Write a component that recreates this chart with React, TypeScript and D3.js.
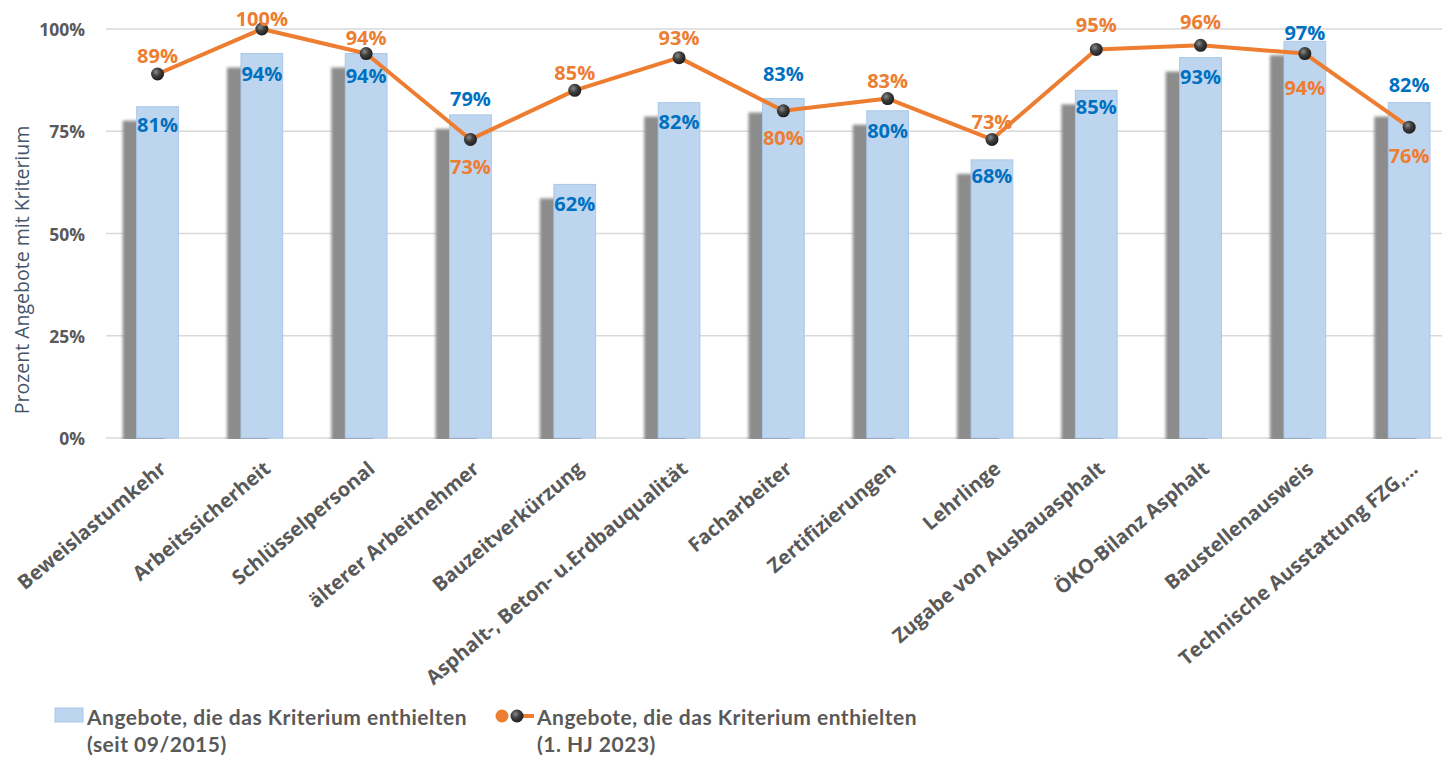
import React from "react";
import * as d3 from "d3";

const categories = [
  "Beweislastumkehr",
  "Arbeitssicherheit",
  "Schlüsselpersonal",
  "älterer Arbeitnehmer",
  "Bauzeitverkürzung",
  "Asphalt-, Beton- u.Erdbauqualität",
  "Facharbeiter",
  "Zertifizierungen",
  "Lehrlinge",
  "Zugabe von Ausbauasphalt",
  "ÖKO-Bilanz Asphalt",
  "Baustellenausweis",
  "Technische Ausstattung FZG,...",
];
const since2015 = [81, 94, 94, 79, 62, 82, 83, 80, 68, 85, 93, 97, 82];
const hj2023 = [89, 100, 94, 73, 85, 93, 80, 83, 73, 95, 96, 94, 76];
const yTicks = [0, 25, 50, 75, 100];
const legendBar = ["Angebote, die das Kriterium enthielten", "(seit 09/2015)"];
const legendLine = ["Angebote, die das Kriterium enthielten", "(1. HJ 2023)"];
const yTitle = "Prozent Angebote mit Kriterium";

// label offsets (px from the mark, as placed in the reference)
const barLabelDy = [18, 20, 22, -16, 19, 19, -25, 20, 16, 16, 19, -9, -18];
const lineLabelDy = [-18, -11, -16, 27, -18, -20, 27, -18, -17.5, -25, -23.5, 34, 28];

const W = 1442;
const H = 758;
const SANS = "'Open Sans', 'Noto Sans', sans-serif";
const NARROW = "Lato, sans-serif";
const BLUE = "#0070C0";
const ORANGE = "#ED7D31";
const GREY = "#595959";

export default function App() {
  const x = d3
    .scaleBand<string>()
    .domain(categories)
    .range([105.4, 105.4 + 13 * 104.3])
    .paddingInner(0.6)
    .paddingOuter(0.3);
  const y = d3.scaleLinear().domain([0, 100]).range([438, 29]);
  const bw = x.bandwidth();
  const cx = (c: string) => (x(c) as number) + bw / 2;

  const line = d3
    .line<number>()
    .x((_, i) => cx(categories[i]))
    .y((d) => y(d));

  return (
    <svg
      width={W}
      height={H}
      style={{ position: "absolute", left: 0, top: 0, background: "#fff" }}
      fontFamily={SANS}
    >
      <defs>
        <filter id="blur" x="-50%" y="-50%" width="200%" height="200%">
          <feGaussianBlur stdDeviation="1.6" />
        </filter>
        <radialGradient id="ball" cx="38%" cy="35%" r="70%">
          <stop offset="0%" stopColor="#8a8a8a" />
          <stop offset="45%" stopColor="#3f3f3f" />
          <stop offset="100%" stopColor="#1a1a1a" />
        </radialGradient>
        <clipPath id="plotClip">
          <rect x={0} y={0} width={W} height={439} />
        </clipPath>
      </defs>

      {yTicks.map((t) => (
        <line
          key={t}
          x1={106}
          x2={1461}
          y1={y(t)}
          y2={y(t)}
          stroke="#D9D9D9"
          strokeWidth={1.5}
        />
      ))}

      {yTicks.map((t) => (
        <text
          key={"l" + t}
          x={85}
          y={y(t)}
          textAnchor="end"
          dominantBaseline="central"
          fontSize={17.5}
          fontWeight={700}
          fill={GREY}
        >
          {t}%
        </text>
      ))}

      <text
        transform={`translate(21,270) rotate(-90)`}
        textAnchor="middle"
        dominantBaseline="central"
        fontSize={19.5}
        fill="#44546A"
      >
        {yTitle}
      </text>

      <g clipPath="url(#plotClip)">
        {since2015.map((v, i) => (
          <rect
            key={"s" + i}
            x={(x(categories[i]) as number) - 14}
            y={y(v) + 14}
            width={bw}
            height={y(0) - y(v)}
            fill="#8c8c8c"
            filter="url(#blur)"
          />
        ))}
      </g>

      {since2015.map((v, i) => (
        <rect
          key={"b" + i}
          x={x(categories[i])}
          y={y(v)}
          width={bw}
          height={y(0) - y(v)}
          fill="#BDD5EE"
          stroke="#A9C8E8"
          strokeWidth={1}
        />
      ))}

      <path d={line(hj2023) || ""} fill="none" stroke={ORANGE} strokeWidth={4} strokeLinejoin="round" />
      {hj2023.map((v, i) => (
        <circle key={"p" + i} cx={cx(categories[i])} cy={y(v)} r={6.5} fill="url(#ball)" />
      ))}

      {since2015.map((v, i) => (
        <text
          key={"bl" + i}
          x={cx(categories[i])}
          y={y(v) + barLabelDy[i]}
          textAnchor="middle"
          dominantBaseline="central"
          fontSize={20}
          fontWeight={700}
          fill={BLUE}
        >
          {v}%
        </text>
      ))}

      {hj2023.map((v, i) => (
        <text
          key={"ll" + i}
          x={cx(categories[i])}
          y={y(v) + lineLabelDy[i]}
          textAnchor="middle"
          dominantBaseline="central"
          fontSize={20}
          fontWeight={700}
          fill={ORANGE}
        >
          {v}%
        </text>
      ))}

      {categories.map((c) => (
        <text
          key={"x" + c}
          transform={`translate(${cx(c) + 10},471) rotate(-40)`}
          textAnchor="end"
          fontSize={20}
          fontWeight={700}
          fill={GREY}
        >
          {c}
        </text>
      ))}

      <rect x={55} y={708} width={28} height={14} fill="#BDD5EE" stroke="#A9C8E8" />
      {legendBar.map((t, i) => (
        <text
          key={"lb" + i}
          x={87}
          y={716 + i * 27}
          dominantBaseline="central"
          fontFamily={NARROW}
          fontSize={21}
          letterSpacing={0.5}
          fontWeight={700}
          fill={GREY}
        >
          {t}
        </text>
      ))}
      <line x1={517} x2={534} y1={716} y2={716} stroke={ORANGE} strokeWidth={4} />
      <circle cx={502} cy={716} r={6.5} fill={ORANGE} />
      <circle cx={517} cy={716} r={6.5} fill="url(#ball)" />
      {legendLine.map((t, i) => (
        <text
          key={"ll2" + i}
          x={537}
          y={716 + i * 27}
          dominantBaseline="central"
          fontFamily={NARROW}
          fontSize={21}
          letterSpacing={0.5}
          fontWeight={700}
          fill={GREY}
        >
          {t}
        </text>
      ))}
    </svg>
  );
}
